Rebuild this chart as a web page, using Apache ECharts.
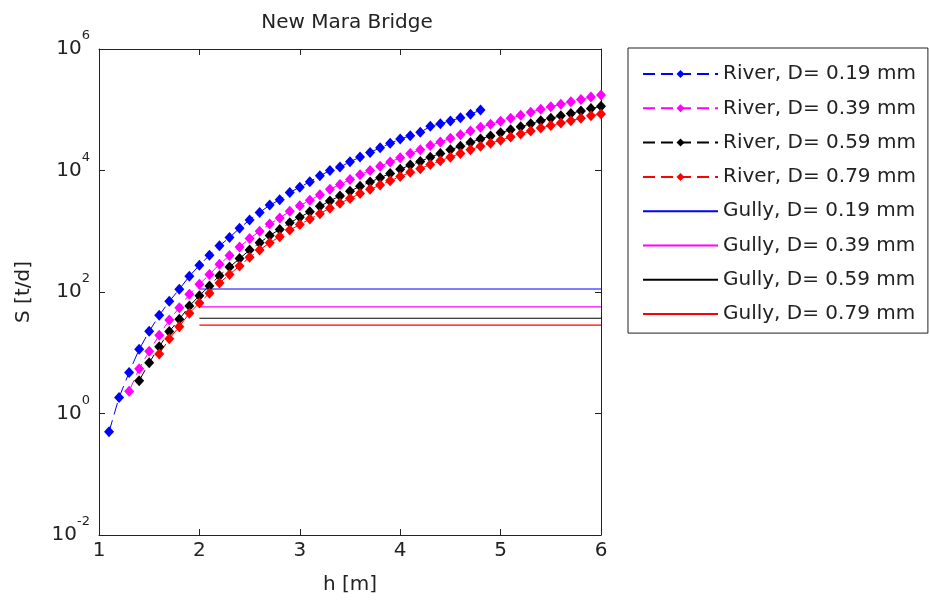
<!DOCTYPE html>
<html>
<head>
<meta charset="utf-8">
<script src="https://cdn.jsdelivr.net/npm/echarts@6/dist/echarts.min.js"></script>
<style>html,body{margin:0;padding:0;background:#fff}#c{width:930px;height:603px}</style>
</head>
<body>
<div id="c"></div>
<script>
// h values [m] shared by the river series (null = no point)
const hValues = [1.1,1.2,1.3,1.4,1.5,1.6,1.7,1.8,1.9,2.0,2.1,2.2,2.3,2.4,2.5,2.6,2.7,2.8,2.9,3.0,
  3.1,3.2,3.3,3.4,3.5,3.6,3.7,3.8,3.9,4.0,4.1,4.2,4.3,4.4,4.5,4.6,4.7,4.8,4.9,5.0,
  5.1,5.2,5.3,5.4,5.5,5.6,5.7,5.8,5.9,6.0];

const river019 = [0.50,1.84,4.74,11.4,22.5,41.3,70.3,111,182,275,
  403,575,789,1122,1538,2037,2692,3289,4355,5321,
  6516,8185,10000,11376,13900,16630,19860,23660,27990,32960,
  37330,42460,53330,58880,65310,74130,84140,99080,
  null,null,null,null,null,null,null,null,null,null,null,null];

const river039 = [null,null,
  2.33,5.46,10.6,19.5,34.5,55.2,91.6,134,195,286,
  398,550,759,1000,1318,1660,2138,2630,3236,3981,
  4898,5888,7079,8511,10000,11750,13800,16220,19050,21880,
  25700,29510,33880,38900,44670,51290,57540,64570,72440,81280,
  91200,102300,112200,123000,134900,147900,162200,175000];

const river059 = [null,null,null,
  3.47,6.85,12.6,22.4,35.5,58.9,87.1,126,186,257,
  355,490,646,851,1072,1380,1698,2089,2570,3162,
  3802,4571,5495,6457,7586,8913,10470,12300,14130,16600,
  19050,21880,25120,28840,33110,37150,41690,46770,52480,58880,
  66070,72440,79430,87100,95500,104700,114000];

const river079 = [null,null,null,null,null,
  9.55,17.0,26.9,44.7,66.1,95.5,141,195,269,372,
  490,646,813,1047,1288,1585,1950,2399,2884,3467,
  4169,4898,5754,6761,7943,9333,10720,12590,14450,16600,
  19050,21880,25120,28180,31620,35480,39810,44670,50120,54950,
  60260,66070,72440,79430,85110];

// Gully: constant S over h range
const gullyH = [2, 6];
const gully019 = 112;
const gully039 = 57;
const gully059 = 37;
const gully079 = 28.6;

const seriesNames = ['River, D= 0.19 mm','River, D= 0.39 mm','River, D= 0.59 mm','River, D= 0.79 mm',
  'Gully, D= 0.19 mm','Gully, D= 0.39 mm','Gully, D= 0.59 mm','Gully, D= 0.79 mm'];
const colors = ['#0000ff','#ff00ff','#000000','#ff0000'];

const FONT = 'DejaVu Sans';
const TXT = '#222';

function pairs(arr){ return hValues.map((h,i)=>[h, arr[i]]).filter(p=>p[1]!=null); }

const riverArrays = [river019, river039, river059, river079];
const gullyVals = [gully019, gully039, gully059, gully079];

const series = [];
riverArrays.forEach((arr,i)=>{
  series.push({
    name: seriesNames[i], type:'line', data: pairs(arr),
    xAxisIndex:0, yAxisIndex:0,
    symbol:'diamond', symbolSize:[10,11], showSymbol:true,
    itemStyle:{color:colors[i]},
    lineStyle:{color:colors[i], width:1, type:[12,6]},
    animation:false
  });
});
gullyVals.forEach((v,i)=>{
  series.push({
    name: seriesNames[4+i], type:'line', data: gullyH.map(h=>[h,v]),
    xAxisIndex:0, yAxisIndex:0,
    symbol:'none', showSymbol:false,
    itemStyle:{color:colors[i]},
    lineStyle:{color:colors[i], width:1.2, type:'solid'},
    animation:false
  });
});

function supLabel(v){
  const e = Math.round(Math.log10(v));
  return '{b|10}{s|' + e + '}';
}

const legendData = seriesNames.map((n,i)=> i < 4 ? {name:n} :
  {name:n, itemStyle:{opacity:0}});

const axisLineStyle = {lineStyle:{color:TXT, width:1}};
const chart = echarts.init(document.getElementById('c'), null, {renderer:'canvas'});
chart.setOption({
  backgroundColor:'#fff',
  animation:false,
  title:{
    text:'New Mara Bridge', left:347, top:13, textAlign:'center', padding:0,
    textStyle:{fontFamily:FONT, fontSize:20, fontWeight:'normal', color:TXT}
  },
  legend:{
    orient:'vertical', left:628, top:48, padding:[16,12,9,14],
    itemWidth:75, itemHeight:10, itemGap:14.3,
    borderColor:'#222', borderWidth:1, backgroundColor:'#fff',
    textStyle:{fontFamily:FONT, fontSize:20, color:TXT, lineHeight:20},
    data: legendData
  },
  grid:{left:99, right:329, top:49, bottom:68, containLabel:false},
  xAxis:[{
    type:'value', min:1, max:6, interval:1, position:'bottom',
    name:'h [m]', nameLocation:'middle', nameGap:40,
    nameTextStyle:{fontFamily:FONT, fontSize:20, color:TXT},
    axisLine:axisLineStyle,
    axisTick:{inside:true, length:6, lineStyle:{color:TXT}},
    axisLabel:{fontFamily:FONT, fontSize:20, color:TXT, margin:6},
    splitLine:{show:false}
  },{
    type:'value', min:1, max:6, interval:1, position:'top',
    axisLine:axisLineStyle,
    axisTick:{inside:true, length:6, lineStyle:{color:TXT}},
    axisLabel:{show:false}, splitLine:{show:false}
  }],
  yAxis:[{
    type:'log', logBase:10, min:0.01, max:1000000, interval:2, position:'left',
    name:'S [t/d]', nameLocation:'middle', nameGap:65, nameRotate:90,
    nameTextStyle:{fontFamily:FONT, fontSize:20, color:TXT},
    axisLine:axisLineStyle,
    axisTick:{inside:true, length:6, lineStyle:{color:TXT}},
    axisLabel:{
      margin:9, formatter:supLabel,
      rich:{
        b:{fontFamily:FONT, fontSize:20, color:TXT, verticalAlign:'middle'},
        s:{fontFamily:FONT, fontSize:13, color:TXT, verticalAlign:'middle', padding:[0,0,26,0]}
      }
    },
    splitLine:{show:false}
  },{
    type:'log', logBase:10, min:0.01, max:1000000, interval:2, position:'right',
    axisLine:axisLineStyle,
    axisTick:{inside:true, length:6, lineStyle:{color:TXT}},
    axisLabel:{show:false}, splitLine:{show:false}
  }],
  series: series
});
</script>
</body>
</html>
